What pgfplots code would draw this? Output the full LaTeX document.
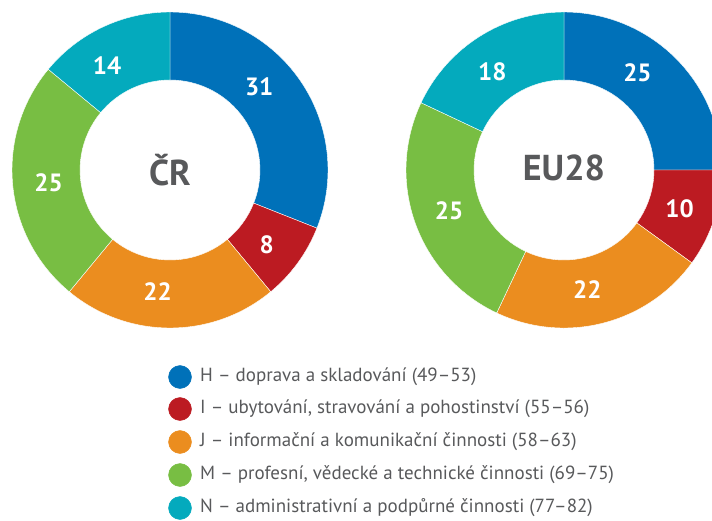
\documentclass[border=0pt]{standalone}
\usepackage{pgfplots}
\pgfplotsset{compat=1.18}
\usepackage{pgfplotstable}
\usepackage{fontspec}
\setmainfont{PT Sans}

\definecolor{c0}{HTML}{0071B9}
\definecolor{c1}{HTML}{BC1B22}
\definecolor{c2}{HTML}{EB8D1F}
\definecolor{c3}{HTML}{78BE43}
\definecolor{c4}{HTML}{04AABD}
\definecolor{txt}{HTML}{58595B}

% shares (%) and label angles (deg)
\pgfplotstableread{
row CR EU crlab eulab
0 31 25 43 53
1 8 10 -37.5 -18.6
2 22 22 -95.8 -79
3 25 25 -174 -160.4
4 14 18 121 126
}\donutdata

\tikzset{num/.style={font=\fontsize{25}{25}\selectfont\bfseries, text=white},
  legtxt/.style={font=\fontsize{19}{19}\selectfont, text=txt, anchor=west, inner sep=0pt}}

\newcommand\donut[4]{% cx, cy, value column, label-angle column
  \def\cum{0}%
  \pgfplotsforeachungrouped \rr in {0,...,4}{%
    \pgfplotstablegetelem{\rr}{#3}\of\donutdata \let\val\pgfplotsretval
    \pgfplotstablegetelem{\rr}{#4}\of\donutdata \let\labang\pgfplotsretval
    \pgfmathsetmacro\sa{90-3.6*\cum}%
    \pgfmathsetmacro\ea{90-3.6*(\cum+\val)}%
    \pgfmathsetmacro\xo{#1+158*cos(\sa)}%
    \pgfmathsetmacro\yo{#2+158*sin(\sa)}%
    \pgfmathsetmacro\xin{#1+90*cos(\ea)}%
    \pgfmathsetmacro\yin{#2+90*sin(\ea)}%
    \pgfmathsetmacro\xl{#1+122*cos(\labang)}%
    \pgfmathsetmacro\yl{#2+122*sin(\labang)}%
    \pgfmathsetmacro\cum{\cum+\val}%
    \edef\tmp{\noexpand\fill[c\rr, draw=white, line width=0.4pt]
      (axis cs:\xo,\yo) arc[start angle=\sa, end angle=\ea, radius=158pt]
      -- (axis cs:\xin,\yin) arc[start angle=\ea, end angle=\sa, radius=90pt] -- cycle;
      \noexpand\node[num] at (axis cs:\xl,\yl) {\val};}%
    \tmp
  }%
}

\begin{document}
\begin{tikzpicture}
\begin{axis}[
  width=712pt, height=520pt, scale only axis,
  xmin=0, xmax=712, ymin=0, ymax=520,
  hide axis, clip=true,
]
\donut{170}{350}{CR}{crlab}
\donut{564}{350}{EU}{eulab}
\node[font=\fontsize{36}{36}\selectfont\bfseries, text=txt] at (axis cs:170,350) {ČR};
\node[font=\fontsize{36}{36}\selectfont\bfseries, text=txt] at (axis cs:564,352) {EU28};

\addplot[only marks, mark=*, mark size=11.5pt, c0] coordinates {(180,143)};
\addplot[only marks, mark=*, mark size=11.5pt, c1] coordinates {(180,111)};
\addplot[only marks, mark=*, mark size=11.5pt, c2] coordinates {(180,78)};
\addplot[only marks, mark=*, mark size=11.5pt, c3] coordinates {(180,45)};
\addplot[only marks, mark=*, mark size=11.5pt, c4] coordinates {(180,12)};
\node[legtxt] at (axis cs:200,143) {H – doprava a skladování (49–53)};
\node[legtxt] at (axis cs:200,111) {I – ubytování, stravování a pohostinství (55–56)};
\node[legtxt] at (axis cs:200,78) {J – informační a komunikační činnosti (58–63)};
\node[legtxt] at (axis cs:200,45) {M – profesní, vědecké a technické činnosti (69–75)};
\node[legtxt] at (axis cs:200,12) {N – administrativní a podpůrné činnosti (77–82)};
\end{axis}
\pgfresetboundingbox
\useasboundingbox (current axis.south west) rectangle (current axis.north east);
\end{tikzpicture}
\end{document}
